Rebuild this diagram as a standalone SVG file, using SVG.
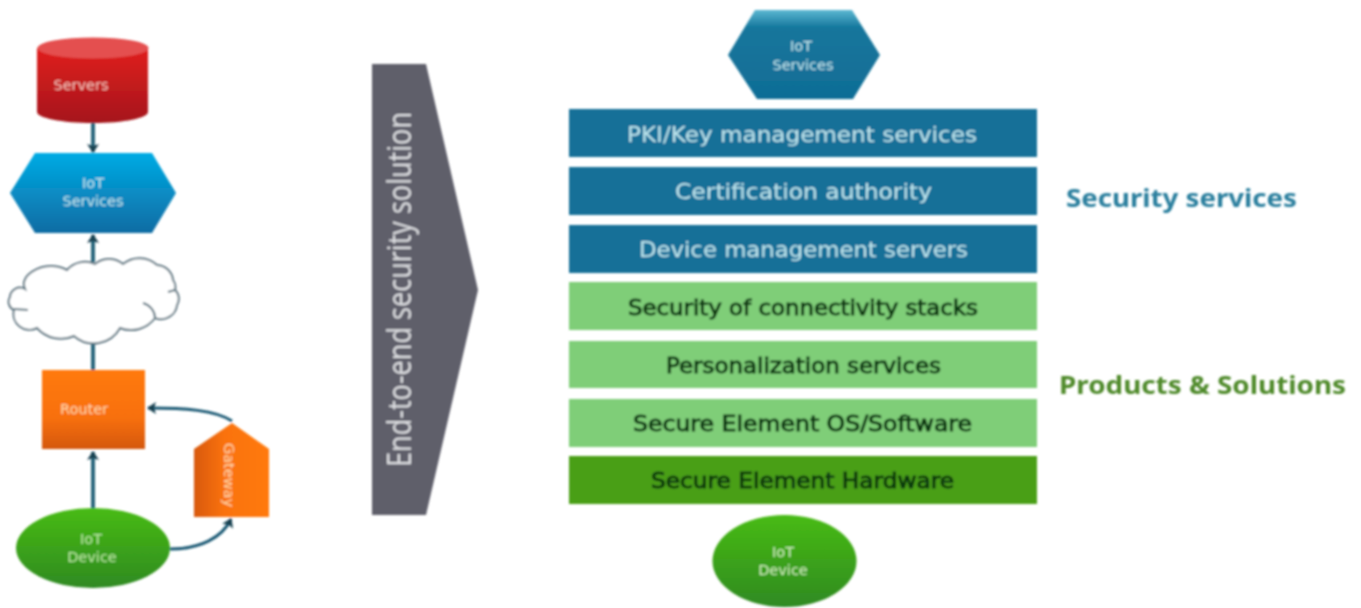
<svg xmlns="http://www.w3.org/2000/svg" width="1361" height="608" viewBox="0 0 1361 608">
<style>
.sm{font-family:"DejaVu Sans","Liberation Sans",sans-serif;font-size:14.500px;fill:#dff3f5;text-anchor:middle}
.bar{font-family:"DejaVu Sans","Liberation Sans",sans-serif;font-size:21px;text-anchor:middle}
.bl{fill:#bfe6ee}
.gr{fill:#0a3a12;stroke:#0a3a12;stroke-width:1}
.lab{font-family:"Noto Sans","Liberation Sans",sans-serif;font-size:25px;font-weight:700}
.con{fill:none;stroke:#2b667c;stroke-width:4}
.thin{fill:none;stroke:#1d5a75;stroke-width:3}
.cl{fill:none;stroke:#5b7480;stroke-width:2}
</style>
<defs>
<filter id="soft" x="-5%" y="-5%" width="110%" height="110%"><feGaussianBlur stdDeviation="0.9"/></filter>
<linearGradient id="red" x1="0" y1="0" x2="0" y2="1"><stop offset="0" stop-color="#e0201a"/><stop offset="1" stop-color="#a5151a"/></linearGradient>
<linearGradient id="blue" x1="0" y1="0" x2="0" y2="1"><stop offset="0" stop-color="#00abe4"/><stop offset="1" stop-color="#0f6ca3"/></linearGradient>
<linearGradient id="hex" x1="0" y1="0" x2="0" y2="1"><stop offset="0" stop-color="#5cb8d2"/><stop offset=".2" stop-color="#14769c"/><stop offset="1" stop-color="#116d96"/></linearGradient>
<linearGradient id="or" x1="0" y1="0" x2="0" y2="1"><stop offset="0" stop-color="#ff7a08"/><stop offset=".6" stop-color="#f8700a"/><stop offset="1" stop-color="#d4580e"/></linearGradient>
<linearGradient id="gw" x1="0" y1="0" x2="1" y2="0"><stop offset="0" stop-color="#d8590e"/><stop offset=".4" stop-color="#fa720a"/><stop offset="1" stop-color="#ff7a08"/></linearGradient>
<linearGradient id="gn" x1="0" y1="0" x2="0" y2="1"><stop offset="0" stop-color="#48bb12"/><stop offset="1" stop-color="#2f8a22"/></linearGradient>
<marker id="ah" markerUnits="userSpaceOnUse" markerWidth="14" markerHeight="14" refX="8" refY="7" orient="auto"><path d="M0,1L9,7L0,13L2,7z" fill="#173f50"/></marker>
</defs>
<rect width="1361" height="608" fill="#fff"/>
<g filter="url(#soft)">
<g id="connectors">
<path class="con" d="M93 122V152" marker-end="url(#ah)"/>
<path class="con" d="M93 262V235" marker-end="url(#ah)"/>
<path class="con" d="M93 344V372"/>
<path class="con" d="M93 508V452" marker-end="url(#ah)"/>
<path class="thin" d="M170 549C200 549 222 538 231 519" marker-end="url(#ah)"/>
<path class="thin" d="M232 421C215 410 185 408 148 408" marker-end="url(#ah)"/>
</g>
<g id="servers">
<path d="M37 48V112C37 118 62 123 93 123S148 118 148 112V48z" fill="url(#red)"/>
<ellipse cx="93" cy="48" rx="55.500" ry="10.500" fill="#e4504f"/>
<text class="sm" x="81" y="90" style="fill:#f6c0b8">Servers</text>
</g>
<g id="iot-services-left">
<polygon points="35,153 152,153 176,193 152,233 35,233 10,193" fill="url(#blue)"/>
<text class="sm bl" x="93" y="188">IoT</text><text class="sm bl" x="93" y="206">Services</text>
</g>
<g id="cloud">
<path d="M10 297A10 10 0 0 1 25 289A12 12 0 0 1 28 275A34 34 0 0 1 67 270A24 24 0 0 1 95 264A22 22 0 0 1 123 264A26 26 0 0 1 157 265A17 17 0 0 1 173 280A12 12 0 0 1 175 290A12 12 0 0 1 177 305A16 16 0 0 1 155 318A30 30 0 0 1 120 328A30 30 0 0 1 74 336A32 32 0 0 1 37 328A16 16 0 0 1 14 310A9 9 0 0 1 10 297Z" class="cl" style="fill:#fff"/>
<path class="cl" d="M143 303C150 305 155 311 155 318M14 309L28 310M175 290L168 292"/>
</g>
<g id="router">
<rect x="42" y="370" width="103" height="79" fill="url(#or)"/>
<text class="sm" x="84" y="414" style="fill:#ffd9a8">Router</text>
</g>
<g id="gateway">
<polygon points="232,423 269,449 269,517 194,517 194,449" fill="url(#gw)"/>
<text class="sm" transform="translate(224 475) rotate(90)" style="fill:#ffd9a8">Gateway</text>
</g>
<g id="iot-device-left">
<ellipse cx="93" cy="548" rx="77" ry="40" fill="url(#gn)"/>
<text class="sm" x="91" y="544" style="fill:#b9e8a0">IoT</text><text class="sm" x="92" y="562" style="fill:#b9e8a0">Device</text>
</g>
<g id="end-to-end">
<polygon points="372,64 426,64 478,290 426,515 372,515" fill="#5f5f6b"/>
<text transform="translate(411 467) rotate(-90)" font-family="'Open Sans','Liberation Sans',sans-serif" font-size="33" fill="#dcdde0" textLength="355" lengthAdjust="spacingAndGlyphs">End-to-end security solution</text>
</g>
<g id="iot-services-right">
<polygon points="755,10 852,10 880,55 853,99 757,99 728,55" fill="url(#hex)"/>
<text class="sm bl" x="801" y="51">IoT</text><text class="sm bl" x="803" y="70">Services</text>
</g>
<g id="pki"><rect x="569" y="109" width="468" height="48" fill="#126f98"/><text class="bar bl" x="802" y="142" textLength="350" lengthAdjust="spacingAndGlyphs">PKI/Key management services</text></g>
<g id="ca"><rect x="569" y="167" width="468" height="48" fill="#126f98"/><text class="bar bl" x="803.500" y="199" textLength="257" lengthAdjust="spacingAndGlyphs">Certification authority</text></g>
<g id="dms"><rect x="569" y="225" width="468" height="48" fill="#126f98"/><text class="bar bl" x="803.500" y="257" textLength="329" lengthAdjust="spacingAndGlyphs">Device management servers</text></g>
<g id="stacks"><rect x="569" y="282" width="468" height="48" fill="#7fce78"/><text class="bar gr" x="803" y="315" textLength="350" lengthAdjust="spacingAndGlyphs">Security of connectivity stacks</text></g>
<g id="personalization"><rect x="569" y="341" width="468" height="47" fill="#7fce78"/><text class="bar gr" x="803.500" y="373" textLength="275" lengthAdjust="spacingAndGlyphs">Personalization services</text></g>
<g id="os"><rect x="569" y="399" width="468" height="48" fill="#7fce78"/><text class="bar gr" x="802.500" y="431" textLength="339" lengthAdjust="spacingAndGlyphs">Secure Element OS/Software</text></g>
<g id="hardware"><rect x="569" y="456" width="468" height="48" fill="#4a9f15"/><text class="bar gr" x="802.500" y="488" textLength="303" lengthAdjust="spacingAndGlyphs">Secure Element Hardware</text></g>
<g id="iot-device-right">
<ellipse cx="784.500" cy="561" rx="72" ry="46" fill="url(#gn)"/>
<text class="sm" x="783" y="557" style="fill:#cdeeb8">IoT</text><text class="sm" x="783" y="575" style="fill:#cdeeb8">Device</text>
</g>
<text class="lab" x="1066" y="207" fill="#2a7f9e" textLength="231" lengthAdjust="spacingAndGlyphs">Security services</text>
<text class="lab" x="1059" y="394" fill="#4f8a2c" textLength="287" lengthAdjust="spacingAndGlyphs">Products &amp; Solutions</text>
</g>
</svg>
